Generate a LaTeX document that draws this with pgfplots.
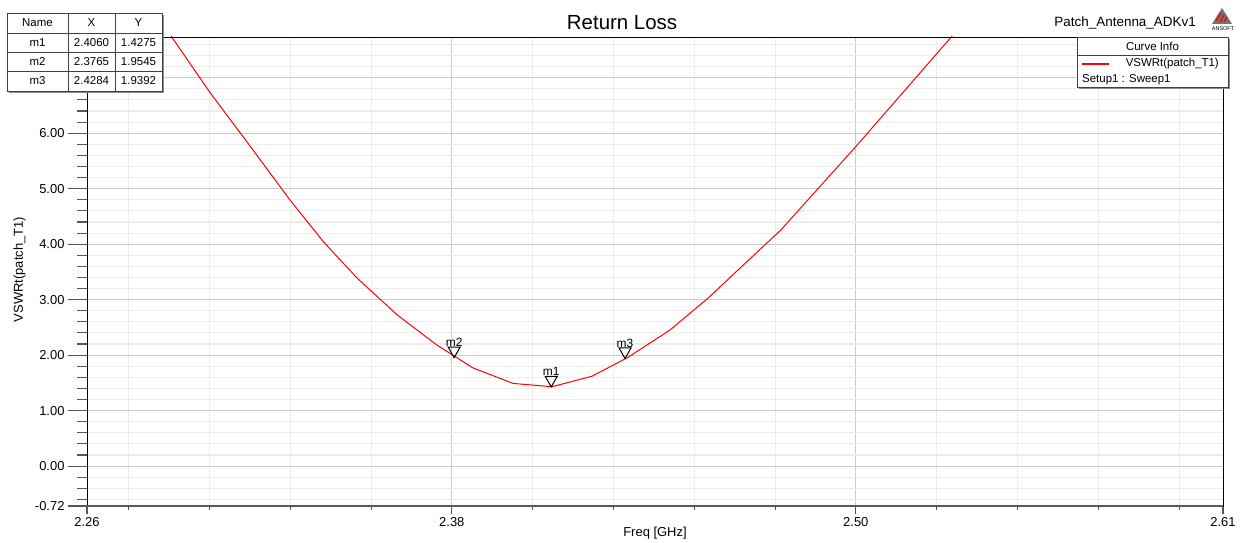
\documentclass[border=0pt]{standalone}
\usepackage{pgfplots}
\pgfplotsset{compat=1.18}
\usepackage{fontspec}
\setmainfont{Liberation Sans}
\definecolor{gmin}{HTML}{ECECEC}
\definecolor{gmaj}{HTML}{CCCCCC}
\definecolor{tickc}{HTML}{555555}
\pgfdeclareplotmark{dtri}{%
  \pgfpathmoveto{\pgfpoint{0bp}{0bp}}%
  \pgfpathlineto{\pgfpoint{-6bp}{10.5bp}}%
  \pgfpathlineto{\pgfpoint{6bp}{10.5bp}}%
  \pgfpathclose
  \pgfusepathqstroke}
\newcommand{\fs}[1]{\fontsize{#1}{#1}\selectfont}
\def\minx{2.2776,2.3022,2.3267,2.3513,2.4003,2.4249,2.4494,2.4740,2.5231,2.5476,2.5722,2.5967}
\def\miny{-0.6,-0.4,-0.2,0.2,0.4,0.6,0.8,1.2,1.4,1.6,1.8,2.2,2.4,2.6,2.8,3.2,3.4,3.6,3.8,4.2,4.4,4.6,4.8,5.2,5.4,5.6,5.8,6.2,6.4,6.6,6.8,7.2,7.4,7.6}
\begin{document}
\begin{tikzpicture}[x=1bp,y=1bp]
\useasboundingbox (0,0) rectangle (1241,543);
\pgfplotsset{common/.style={at={(87bp,37bp)}, anchor=south west,
  width=1136bp, height=469bp, scale only axis,
  xmin=2.265, xmax=2.61, ymin=-0.72, ymax=7.735,
  axis line style={draw=none}}}
% grid + curve
\begin{axis}[common, name=main,
  xtick={2.3758,2.4985}, minor xtick=\minx,
  ytick={0,1,2,3,4,5,6,7}, minor ytick=\miny,
  xticklabels={}, yticklabels={}, tick style={draw=none},
  grid=both, major grid style={gmaj, line width=1.1bp},
  minor grid style={gmin, line width=1.1bp},
  title={Return Loss},
  title style={at={(axis description cs:0.471,1.019)}, anchor=center, font=\fs{20.5}},
  xlabel={Freq [GHz]},
  xlabel style={at={(axis description cs:0.5,-0.058)}, anchor=center, font=\fs{13}},
  ylabel={VSWRt(patch\_T1)},
  ylabel style={at={(axis description cs:-0.0595,0.504)}, anchor=center, rotate=0, font=\fs{13}},
]
\addplot[red, line width=1bp] coordinates {
(2.2841,8.33) (2.2908,7.73) (2.3024,6.73) (2.3145,5.77) (2.3266,4.80)
(2.3367,4.05) (2.3470,3.39) (2.3591,2.73) (2.3713,2.18) (2.3822,1.77)
(2.3944,1.49) (2.4062,1.43) (2.4184,1.62) (2.4293,1.96) (2.4420,2.45)
(2.4533,3.01) (2.4648,3.65) (2.4758,4.26) (2.4876,5.04) (2.4982,5.74)
(2.5104,6.57) (2.5277,7.75) (2.5347,8.22)};
\addplot[only marks, mark=dtri, mark options={black, line width=1bp},
  nodes near coords, point meta=explicit symbolic,
  every node near coord/.style={anchor=south, yshift=9.5bp, inner sep=1bp, font=\fs{12}, black}]
  coordinates {(2.4060,1.4275)[m1] (2.3765,1.9545)[m2] (2.4284,1.9392)[m3]};
\end{axis}
% y ticks
\begin{axis}[common, hide x axis,
  ytick={-0.72,0,1,2,3,4,5,6,7}, minor ytick=\miny,
  yticklabels={-0.72,0.00,1.00,2.00,3.00,4.00,5.00,6.00,{}},
  ytick pos=left, tick align=outside,
  major tick length=19bp, minor tick length=10bp,
  tick style={tickc, line width=1.1bp},
  yticklabel style={font=\fs{13}, black}]
\end{axis}
% x ticks
\begin{axis}[common, hide y axis,
  xtick={2.265,2.3758,2.4985,2.61}, minor xtick=\minx,
  xticklabels={2.26,2.38,2.50,2.61},
  xtick pos=bottom, tick align=outside,
  major tick length=8bp, minor tick length=4bp,
  tick style={tickc, line width=1.1bp},
  xticklabel style={font=\fs{13}, black}]
\end{axis}
% axis box
\draw[black, line width=0.9bp] (main.south west) rectangle (main.north east);
\draw[black!65, line width=2bp] (main.south west) -- (main.south east);
% marker table
\fill[black!45] (9,450) rectangle (164,528);
\draw[fill=white, draw=black!75, line width=0.8bp] (7,452) rectangle (162,530);
\draw[black!75, line width=0.8bp] (7,510) -- (162,510) (7,491) -- (162,491) (7,472) -- (162,472)
  (68,452) -- (68,530) (115,452) -- (115,530);
\begin{scope}[every node/.style={font=\fs{11.5}, inner sep=0pt}]
\node at (37.5,520) {Name}; \node at (91.5,520) {X}; \node at (138.5,520) {Y};
\node at (37.5,500.5) {m1}; \node at (91.5,500.5) {2.4060}; \node at (138.5,500.5) {1.4275};
\node at (37.5,481.5) {m2}; \node at (91.5,481.5) {2.3765}; \node at (138.5,481.5) {1.9545};
\node at (37.5,462) {m3}; \node at (91.5,462) {2.4284}; \node at (138.5,462) {1.9392};
\end{scope}
% curve info
\fill[black!45] (1079,454) rectangle (1230,504);
\draw[fill=white, draw=black!75, line width=0.8bp] (1077,456) rectangle (1228,506);
\draw[black!75, line width=0.8bp] (1077,488) -- (1228,488);
\begin{scope}[every node/.style={font=\fs{11.5}, inner sep=0pt}]
\node at (1152.5,497) {Curve Info};
\node[anchor=east] at (1219,479) {VSWRt(patch\_T1)};
\node[anchor=west] at (1082,463) {Setup1 : Sweep1};
\end{scope}
\draw[red, line width=1.6bp] (1082,479) -- (1109,479);
% header right
\node[anchor=east, font=\fs{13.5}, inner sep=0pt] at (1196,520) {Patch\_Antenna\_ADKv1};
\fill[black!55] (1212,519) -- (1232,519) -- (1222,535) -- cycle;
\draw[red, line width=1.2bp] (1216,522) -- (1221,530) (1220,521) -- (1224,528) (1224,521) -- (1227,526);
\node[font=\fs{5.5}, inner sep=0pt] at (1223,514) {ANSOFT};
\end{tikzpicture}
\end{document}
